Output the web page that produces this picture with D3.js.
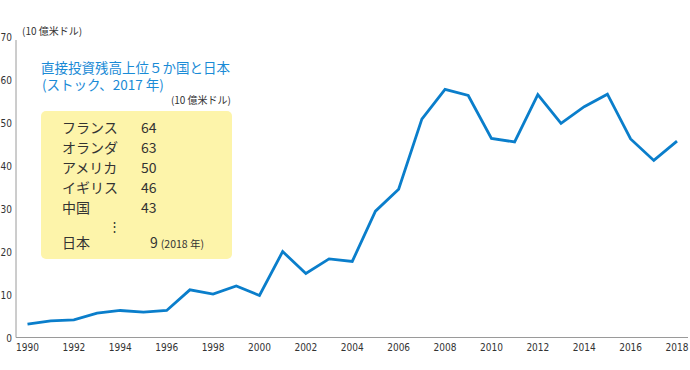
<!DOCTYPE html>
<html>
<head>
<meta charset="utf-8">
<script src="https://cdn.jsdelivr.net/npm/d3@7"></script>
<style>
body { margin: 0; background: #fff; }
text { font-family: "Noto Sans CJK JP", "Noto Sans", sans-serif; }
.tick-num { font-family: "Liberation Sans Narrow", "DejaVu Sans Condensed", sans-serif; font-size: 10px; fill: #333; }
</style>
</head>
<body>
<svg id="chart" width="690" height="370"></svg>
<script>
// Japan outward FDI flow, 10 billion USD
var years = [1990,1991,1992,1993,1994,1995,1996,1997,1998,1999,2000,2001,2002,2003,2004,
	2005,2006,2007,2008,2009,2010,2011,2012,2013,2014,2015,2016,2017,2018]
var values = [3.2,4.0,4.2,5.8,6.4,6.0,6.4,11.2,10.2,12.1,9.9,20.1,15.0,18.4,17.8,
	29.5,34.6,50.9,57.8,56.4,46.4,45.6,56.6,49.9,53.8,56.7,46.3,41.3,45.8]
var yTicks = [0,10,20,30,40,50,60,70]
var xTicks = [1990,1992,1994,1996,1998,2000,2002,2004,2006,2008,2010,2012,2014,2016,2018]

var topNames = ['フランス','オランダ','アメリカ','イギリス','中国']
var topValues = [64,63,50,46,43]

var svg = d3.select('#chart')

var xScale = d3.scaleLinear().domain([1990, 2018]).range([27.5, 677])
var yScale = d3.scaleLinear().domain([0, 70]).range([338, 37])

// axes lines
svg.append('line')
	.attr('x1', 16).attr('x2', 16).attr('y1', 40).attr('y2', 337.5)
	.attr('stroke', '#9a9a9a').attr('stroke-width', 1)
svg.append('line')
	.attr('x1', 16).attr('x2', 688).attr('y1', 337.5).attr('y2', 337.5)
	.attr('stroke', '#9a9a9a').attr('stroke-width', 1)

// y tick labels
svg.append('g').selectAll('text')
	.data(yTicks)
	.enter()
	.append('text')
	.attr('class', 'tick-num')
	.attr('x', 12)
	.attr('y', function(d) { return yScale(d) })
	.attr('dy', '0.35em')
	.attr('text-anchor', 'end')
	.text(function(d) { return d })

// x tick labels
svg.append('g').selectAll('text')
	.data(xTicks)
	.enter()
	.append('text')
	.attr('class', 'tick-num')
	.attr('x', function(d) { return xScale(d) })
	.attr('y', 351)
	.attr('text-anchor', 'middle')
	.text(function(d) { return d })

svg.append('text')
	.attr('x', 22).attr('y', 35)
	.attr('font-size', 10).attr('fill', '#333')
	.text('(10 億米ドル)')

// line
var line = d3.line()
	.x(function(d, i) { return xScale(years[i]) })
	.y(function(d) { return yScale(d) })

svg.append('path')
	.datum(values)
	.attr('d', line)
	.attr('fill', 'none')
	.attr('stroke', '#0a7ecb')
	.attr('stroke-width', 2.8)
	.attr('stroke-linejoin', 'miter')

// title block
svg.append('text')
	.attr('x', 41).attr('y', 73)
	.attr('font-size', 13.5).attr('fill', '#1a8bd6')
	.text('直接投資残高上位５か国と日本')
svg.append('text')
	.attr('x', 42).attr('y', 90)
	.attr('font-size', 13.5).attr('fill', '#1a8bd6')
	.text('(ストック、2017 年)')
svg.append('text')
	.attr('x', 231).attr('y', 104)
	.attr('font-size', 10).attr('fill', '#333')
	.attr('text-anchor', 'end')
	.text('(10 億米ドル)')

svg.append('rect')
	.attr('x', 41).attr('y', 111)
	.attr('width', 191).attr('height', 148)
	.attr('rx', 5)
	.attr('fill', '#fdf4aa')

var rows = svg.append('g')
rows.selectAll('.name')
	.data(topNames)
	.enter()
	.append('text')
	.attr('class', 'name')
	.attr('x', 62)
	.attr('y', function(d, i) { return 133 + i * 20 })
	.attr('font-size', 14).attr('fill', '#333')
	.text(function(d) { return d })
rows.selectAll('.val')
	.data(topValues)
	.enter()
	.append('text')
	.attr('class', 'val')
	.attr('x', 141)
	.attr('y', function(d, i) { return 133 + i * 20 })
	.attr('font-size', 14).attr('fill', '#333')
	.text(function(d) { return d })

svg.append('text')
	.attr('x', 114).attr('y', 231)
	.attr('font-size', 13).attr('fill', '#333')
	.attr('text-anchor', 'middle')
	.text('⋮')

svg.append('text')
	.attr('x', 62).attr('y', 248)
	.attr('font-size', 14).attr('fill', '#333')
	.text('日本')
var jp = svg.append('text')
	.attr('x', 150).attr('y', 248)
	.attr('fill', '#333')
jp.append('tspan').attr('font-size', 14).text('9')
jp.append('tspan').attr('font-size', 10.5).attr('dx', 3).text('(2018 年)')
</script>
</body>
</html>
